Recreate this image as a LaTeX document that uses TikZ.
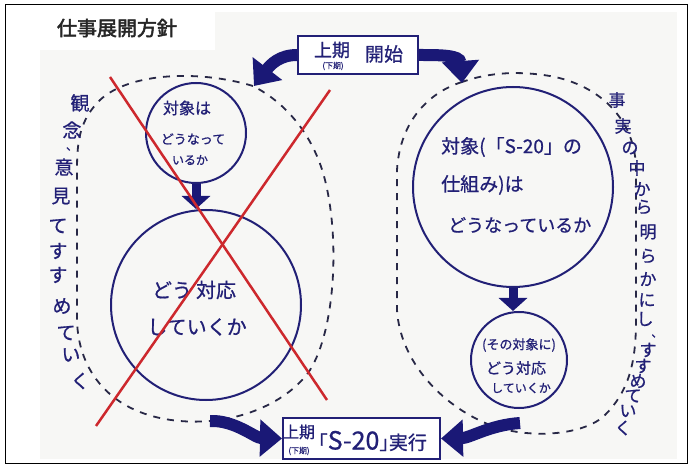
\documentclass[tikz,border=0pt]{standalone}
\usepackage{fontspec}
\newfontfamily\jp[FakeBold=0.8]{Noto Sans CJK JP}
\newfontfamily\jpb[FakeBold=2.5]{Noto Sans CJK JP}
\usetikzlibrary{arrows.meta}
\definecolor{navy}{RGB}{34,32,118}
\definecolor{arrowc}{RGB}{26,24,118}
\definecolor{xred}{RGB}{205,40,45}
\definecolor{dashc}{RGB}{40,40,70}
\definecolor{bgc}{RGB}{247,247,245}
\tikzset{
  circ/.style={circle, draw=navy, line width=2pt, inner sep=0pt},
  jtxt/.style={text=navy, inner sep=0pt},
  bigarrow/.style={draw=arrowc, line width=12pt, -{Triangle[width=36pt,length=22pt]}},
  smallarrow/.style={draw=arrowc, line width=9pt, -{Triangle[width=28pt,length=13pt]}},
  loopline/.style={draw=dashc, line width=1.8pt, dash pattern=on 7pt off 7pt},
  cross/.style={draw=xred, line width=2.5pt},
  lbox/.style={draw=navy, line width=2pt, fill=white, inner sep=0pt},
}
\newcommand{\fs}[1]{\fontsize{#1}{#1}\selectfont}
\begin{document}
\begin{tikzpicture}[x=1pt,y=-1pt]
\useasboundingbox (0,0) rectangle (691,470);
\fill[white] (0,0) rectangle (691,470);
\fill[bgc] (40,12) rectangle (677,459);
\draw[black, line width=1pt] (5,5) rectangle (687,463);
% title
\fill[white] (40,12) rectangle (215,50);
\node[inner sep=0pt, font=\jpb\fs{20}, text=black!85] (title) at (117,28) {仕事展開方針};

% dashed loops
\path[loopline] (253,86) .. controls (200,70) and (130,72) .. (100,100)
  .. controls (80,120) and (77,140) .. (77,170) -- (77,320)
  .. controls (78,370) and (110,415) .. (180,421)
  .. controls (240,426) and (290,400) .. (310,370)
  .. controls (335,330) and (340,240) .. (325,180)
  .. controls (315,140) and (290,105) .. (253,86);
\path[loopline] (462,82) .. controls (430,92) and (400,120) .. (397,170)
  -- (397,310)
  .. controls (400,360) and (440,405) .. (490,425)
  .. controls (530,440) and (585,435) .. (605,415)
  .. controls (630,390) and (636,360) .. (636,320)
  -- (636,170)
  .. controls (636,120) and (600,85) .. (550,76)
  .. controls (520,71) and (490,72) .. (462,82);

% circles
\node[circ, minimum size=100pt] (c1) at (196,133) {};
\node[circ, minimum size=190pt] (c2) at (206,305) {};
\node[circ, minimum size=200pt] (c3) at (513,187) {};
\node[circ, minimum size=96pt] (c4) at (519,360) {};

% circle texts
\node[jtxt, font=\jp\fs{16}] (c1a) at (187,108) {対象は};
\node[jtxt, font=\jp\fs{13}] (c1b) at (193,139) {どうなって};
\node[jtxt, font=\jp\fs{12}] (c1c) at (190,160) {いるか};
\node[jtxt, font=\jp\fs{20}] (c2a) at (194,290) {どう\hspace{4pt}対応};
\node[jtxt, font=\jp\fs{20}] (c2b) at (197,327) {していくか};
\node[jtxt, font=\jp\fs{19}, anchor=west] (c3a) at (441,147) {対象(「S-20」の};
\node[jtxt, font=\jp\fs{19}, anchor=west] (c3b) at (441,185) {仕組み)は};
\node[jtxt, font=\jp\fs{18}, anchor=west] (c3c) at (448,225) {どうなっているか};
\node[jtxt, font=\jp\fs{13}] (c4a) at (519,345) {(その対象に)};
\node[jtxt, font=\jp\fs{15}] (c4b) at (516,368) {どう対応};
\node[jtxt, font=\jp\fs{12}] (c4c) at (521,388) {していくか};

% small arrows between circles
\draw[smallarrow] (c1.south) -- (c1.south |- c2.north);
\draw[smallarrow] (c3.south) -- (c3.south |- c4.north);

% boxes
\node[lbox, minimum width=120pt, minimum height=38pt] (topbox) at (358,55) {};
\node[jtxt, font=\jp\fs{18}] (tb1) at (332,50) {上期};
\node[jtxt, font=\jp\fs{8}] (tb2) at (333,66) {(下期)};
\node[jtxt, font=\jp\fs{19}] (tb3) at (384,54) {開始};
\node[lbox, minimum width=157pt, minimum height=41pt] (botbox) at (361.5,438.5) {};
\node[jtxt, font=\jp\fs{16}] (bb1) at (299,432) {上期};
\node[jtxt, font=\jp\fs{8}] (bb2) at (299,451) {(下期)};
\node[jtxt, font=\jp\fs{19}, anchor=west] (bb3) at (318,441) {｢{\fs{25}S-20}｣実行};

% big arrows
\coordinate (tl) at (254,86);
\coordinate (tr) at (462,83);
\coordinate (bl) at (210,421);
\coordinate (br) at (520,423);
\draw[bigarrow] (topbox.west) .. controls (280,55) and (271,64) .. (tl);
\draw[bigarrow] (topbox.east) .. controls (440,55) and (460,55) .. (tr);
\draw[bigarrow] (bl) .. controls (235,420) and (255,438) .. (botbox.west);
\draw[bigarrow] (br) .. controls (490,425) and (470,438) .. (botbox.east);

% red cross
\draw[cross] (110,77) -- (327,400);
\draw[cross] (330,90) -- (96,426);

% left vertical text
\foreach \ch/\x/\y/\s [count=\i] in {観/80/103/19, 念/72/130/19, 、/72/149/12, 意/64/167/19, 見/61/196/19, て/58/226/19, す/58/251/19, す/58/275/19, め/62/306/19, て/66/333/19, い/71/355/19, く/80/381/19}
  \node[jtxt, font=\jp\fs{\s}] (L\i) at (\x,\y) {\ch};

% right vertical text
\foreach \ch/\x/\y/\s [count=\i] in {事/617/100/17, 実/623/126/17, の/630/148/17, 中/637/168/17, か/642/189/17, ら/644/207/17, 明/648/232/17, ら/648/256/17, か/648/279/17, に/647/300/17, し/645/319/17, 、/657/336/11, す/648/350/17, す/643/366/17, め/638/381/17, て/633/396/17, い/628/411/17, く/623/428/17}
  \node[jtxt, font=\jp\fs{\s}] (R\i) at (\x,\y) {\ch};
\end{tikzpicture}
\end{document}
